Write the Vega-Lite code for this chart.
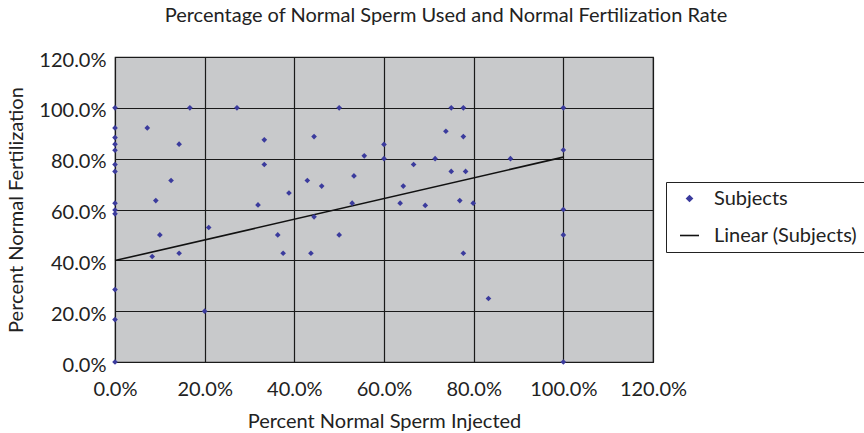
{
  "$schema": "https://vega.github.io/schema/vega-lite/v6.json",
  "width": 538,
  "height": 305,
  "autosize": "none",
  "padding": {"left": 115, "top": 57, "right": 211, "bottom": 71},
  "background": "white",
  "config": {
    "font": "Lato",
    "view": {"fill": "#c8c9cb", "stroke": "#222222", "strokeWidth": 1.2},
    "axis": {"labelFont": "Lato", "titleFont": "Lato", "labelFontSize": 20, "titleFontSize": 20, "labelColor": "#222222", "titleColor": "#222222", "titleFontWeight": "normal", "ticks": false, "domain": false, "gridColor": "#1a1a1a", "gridOpacity": 1, "gridWidth": 1.2, "labelFlush": false, "labelOverlap": false}
  },
  "title": {"text": "Percentage of Normal Sperm Used and Normal Fertilization Rate", "fontSize": 20, "font": "Lato", "fontWeight": "normal", "color": "#222222", "anchor": "middle", "offset": 24, "dx": 62},
  "datasets": {
    "pts": [
      {"x": 0, "y": 100, "series": "Subjects"},
      {"x": 16.7, "y": 100, "series": "Subjects"},
      {"x": 27.2, "y": 100, "series": "Subjects"},
      {"x": 0, "y": 92.1, "series": "Subjects"},
      {"x": 7.2, "y": 92.1, "series": "Subjects"},
      {"x": 0, "y": 88.3, "series": "Subjects"},
      {"x": 0, "y": 85.7, "series": "Subjects"},
      {"x": 0, "y": 83.3, "series": "Subjects"},
      {"x": 14.3, "y": 85.7, "series": "Subjects"},
      {"x": 33.3, "y": 87.4, "series": "Subjects"},
      {"x": 0, "y": 77.7, "series": "Subjects"},
      {"x": 0, "y": 75, "series": "Subjects"},
      {"x": 33.3, "y": 77.7, "series": "Subjects"},
      {"x": 12.5, "y": 71.4, "series": "Subjects"},
      {"x": 38.8, "y": 66.5, "series": "Subjects"},
      {"x": 9.1, "y": 63.5, "series": "Subjects"},
      {"x": 31.9, "y": 61.8, "series": "Subjects"},
      {"x": 0, "y": 62.5, "series": "Subjects"},
      {"x": 0, "y": 59.8, "series": "Subjects"},
      {"x": 0, "y": 58.3, "series": "Subjects"},
      {"x": 20.9, "y": 52.9, "series": "Subjects"},
      {"x": 10, "y": 50, "series": "Subjects"},
      {"x": 36.3, "y": 50, "series": "Subjects"},
      {"x": 8.3, "y": 41.5, "series": "Subjects"},
      {"x": 14.3, "y": 42.8, "series": "Subjects"},
      {"x": 37.5, "y": 42.8, "series": "Subjects"},
      {"x": 0, "y": 28.5, "series": "Subjects"},
      {"x": 20, "y": 20, "series": "Subjects"},
      {"x": 0, "y": 16.7, "series": "Subjects"},
      {"x": 0, "y": 0, "series": "Subjects"},
      {"x": 50, "y": 100, "series": "Subjects"},
      {"x": 75, "y": 100, "series": "Subjects"},
      {"x": 77.7, "y": 100, "series": "Subjects"},
      {"x": 44.4, "y": 88.7, "series": "Subjects"},
      {"x": 73.8, "y": 90.8, "series": "Subjects"},
      {"x": 77.7, "y": 88.7, "series": "Subjects"},
      {"x": 60, "y": 85.6, "series": "Subjects"},
      {"x": 55.6, "y": 81.1, "series": "Subjects"},
      {"x": 60, "y": 80, "series": "Subjects"},
      {"x": 71.4, "y": 80, "series": "Subjects"},
      {"x": 66.6, "y": 77.7, "series": "Subjects"},
      {"x": 75, "y": 75, "series": "Subjects"},
      {"x": 78.2, "y": 75, "series": "Subjects"},
      {"x": 53.3, "y": 73.2, "series": "Subjects"},
      {"x": 42.9, "y": 71.4, "series": "Subjects"},
      {"x": 46.1, "y": 69.2, "series": "Subjects"},
      {"x": 64.3, "y": 69.2, "series": "Subjects"},
      {"x": 52.9, "y": 62.5, "series": "Subjects"},
      {"x": 63.6, "y": 62.5, "series": "Subjects"},
      {"x": 69.2, "y": 61.6, "series": "Subjects"},
      {"x": 76.9, "y": 63.5, "series": "Subjects"},
      {"x": 79.9, "y": 62.5, "series": "Subjects"},
      {"x": 44.4, "y": 57.1, "series": "Subjects"},
      {"x": 50, "y": 50, "series": "Subjects"},
      {"x": 43.7, "y": 42.8, "series": "Subjects"},
      {"x": 77.7, "y": 42.8, "series": "Subjects"},
      {"x": 100, "y": 100, "series": "Subjects"},
      {"x": 100, "y": 83.4, "series": "Subjects"},
      {"x": 88.2, "y": 80, "series": "Subjects"},
      {"x": 100, "y": 60, "series": "Subjects"},
      {"x": 100, "y": 50, "series": "Subjects"},
      {"x": 83.3, "y": 25, "series": "Subjects"},
      {"x": 100, "y": 0, "series": "Subjects"}
    ],
    "trend": [
      {"x": 0, "y": 39.9, "series": "Linear (Subjects)"},
      {"x": 100, "y": 80.6, "series": "Linear (Subjects)"}
    ]
  },
  "layer": [
    {
      "data": {"name": "trend"},
      "mark": {"type": "line", "strokeWidth": 1.6},
      "encoding": {
        "x": {"field": "x", "type": "quantitative", "scale": {"domain": [0, 120], "nice": false, "zero": false}, "axis": {"values": [0, 20, 40, 60, 80, 100, 120], "labelExpr": "format(datum.value, '.1f') + '%'", "labelPadding": 17, "title": "Percent Normal Sperm Injected", "titlePadding": 12}},
        "y": {"field": "y", "type": "quantitative", "scale": {"domain": [0, 120], "nice": false, "zero": false}, "axis": {"values": [0, 20, 40, 60, 80, 100, 120], "labelExpr": "format(datum.value, '.1f') + '%'", "labelPadding": 9, "labelOffset": 3, "title": "Percent Normal Fertilization", "titlePadding": 12}},
        "color": {"field": "series", "type": "nominal", "scale": {"domain": ["Subjects", "Linear (Subjects)"], "range": ["#3b3b9d", "#111111"]},
          "legend": {"title": null, "orient": "none", "legendX": 551, "legendY": 125, "direction": "vertical", "strokeColor": "#222222", "fillColor": "white", "padding": 6, "labelFontSize": 20, "labelFont": "Lato", "labelColor": "#222222", "symbolSize": 361, "symbolOffset": 7, "labelOffset": 14, "rowPadding": 16,
            "encode": {"symbols": {"update": {
              "shape": {"signal": "datum.value === 'Subjects' ? 'diamond' : 'stroke'"},
              "size": {"signal": "datum.value === 'Subjects' ? 30 : 361"},
              "fill": {"signal": "datum.value === 'Subjects' ? '#3b3b9d' : 'transparent'"},
              "stroke": {"signal": "datum.value === 'Subjects' ? 'transparent' : '#111111'"},
              "strokeWidth": {"value": 1.6},
              "opacity": {"value": 1}
            }}}}}
      }
    },
    {
      "data": {"name": "pts"},
      "mark": {"type": "point", "shape": "diamond", "filled": true, "size": 32, "opacity": 1},
      "encoding": {
        "x": {"field": "x", "type": "quantitative"},
        "y": {"field": "y", "type": "quantitative"},
        "color": {"field": "series", "type": "nominal"}
      }
    }
  ]
}
